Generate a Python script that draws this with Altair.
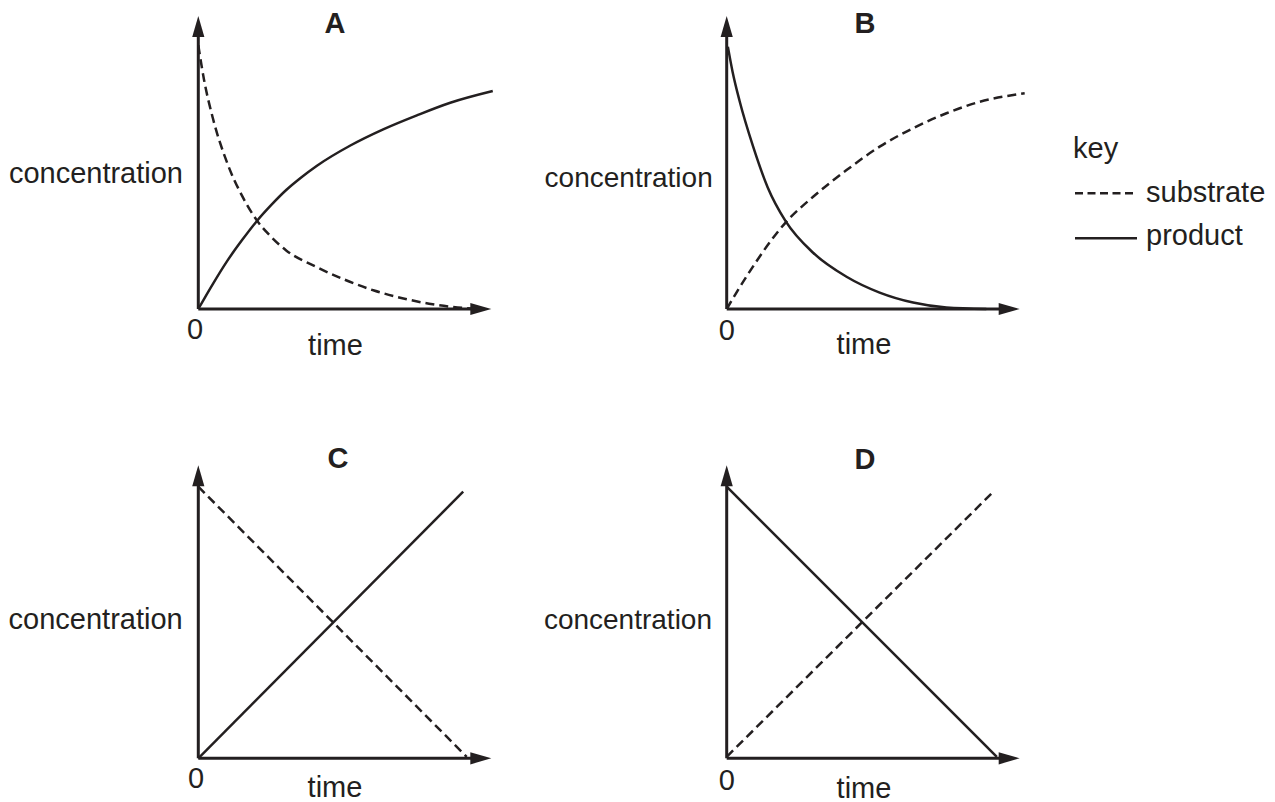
import altair as alt
import pandas as pd

# ---------------- data (time and concentration in arbitrary units 0-100) ----------------
# Graph A
a_sub_t = [0, 2, 5, 10, 15, 19.8, 25, 30, 40, 50, 60, 70, 80, 90, 97]
a_sub_c = [90, 78, 65, 49.5, 38.5, 30.5, 24.5, 20.0, 14.5, 10.0, 6.3, 3.6, 1.6, 0.4, 0]
a_prod_t = [0, 5, 10, 15, 19.8, 25, 30, 35, 40.5, 51.9, 63.3, 74.6, 86.0, 100.5]
a_prod_c = [0, 8.6, 16.6, 23.6, 29.8, 35.6, 40.6, 44.8, 48.9, 55.8, 61.4, 66.1, 70.4, 74.4]
# Graph B
b_sub_t = [0, 6.7, 20.1, 29.5, 40.9, 52.2, 63.6, 75.0, 86.3, 101.7]
b_sub_c = [0, 11.0, 29.5, 38.3, 47.4, 55.4, 61.7, 66.8, 70.7, 73.6]
b_prod_t = [0.4, 2, 4.4, 9.0, 14, 20.1, 29.5, 40.9, 52.2, 63.6, 75.0, 88.6]
b_prod_c = [89.5, 81.0, 71.0, 55.5, 41.5, 30.0, 19.2, 11.0, 5.6, 2.2, 0.5, 0]
# Graph C
c_sub_t = [0, 91.6]
c_sub_c = [92.7, 0.5]
c_prod_t = [0, 90.4]
c_prod_c = [0, 91.0]
# Graph D
d_sub_t = [0, 91.0]
d_sub_c = [0.5, 91.0]
d_prod_t = [0, 92.2]
d_prod_c = [92.7, 0.5]

panel_titles = ["A", "B", "C", "D"]
axis_end = 100          # arrow tips of both axes
key_title = "key"
key_labels = ["substrate", "product"]

# ---------------- styling ----------------
INK = "#231f20"
FONT = "Liberation Sans, Arial, Helvetica, sans-serif"
K = 2.93                # pixels per data unit
HEAD_L = 21             # arrow head length (px)
DASH = [9, 5]
FS = 29


def text_layer(label, px, py, align="center", size=FS, weight="normal"):
    return alt.Chart(pd.DataFrame({"label": [label]})).mark_text(
        font=FONT, fontSize=size, fontWeight=weight, align=align,
        baseline="alphabetic", color=INK
    ).encode(x=alt.value(px), y=alt.value(py), text="label:N")


def panel(W, H, ox, oy, sub_t, sub_c, prod_t, prod_c, interp, texts, extra=()):
    xs = alt.Scale(domain=[-ox / K, (W - ox) / K], nice=False, zero=False)
    ys = alt.Scale(domain=[-(H - oy) / K, oy / K], nice=False, zero=False)
    base_end = axis_end - (HEAD_L * 0.6) / K
    axes_df = pd.DataFrame({"x": [0, 0], "y": [0, 0],
                            "x2": [base_end, 0], "y2": [0, base_end]})
    axes = alt.Chart(axes_df).mark_rule(color=INK, strokeWidth=3).encode(
        x=alt.X("x:Q", scale=xs, axis=None), y=alt.Y("y:Q", scale=ys, axis=None),
        x2="x2:Q", y2="y2:Q")
    right_head = alt.Chart(pd.DataFrame({"x": [axis_end], "y": [0]})).mark_point(
        shape="M -1 -0.58 L 1 0 L -1 0.58 Z", size=HEAD_L ** 2, filled=True,
        opacity=1, color=INK, strokeWidth=0, xOffset=-HEAD_L / 2
    ).encode(x=alt.X("x:Q", scale=xs, axis=None), y=alt.Y("y:Q", scale=ys, axis=None))
    up_head = alt.Chart(pd.DataFrame({"x": [0], "y": [axis_end]})).mark_point(
        shape="M -0.58 1 L 0 -1 L 0.58 1 Z", size=HEAD_L ** 2, filled=True,
        opacity=1, color=INK, strokeWidth=0, yOffset=HEAD_L / 2
    ).encode(x=alt.X("x:Q", scale=xs, axis=None), y=alt.Y("y:Q", scale=ys, axis=None))
    sub = alt.Chart(pd.DataFrame({"t": sub_t, "c": sub_c})).mark_line(
        color=INK, strokeWidth=2.5, strokeDash=DASH, interpolate=interp
    ).encode(x=alt.X("t:Q", scale=xs, axis=None), y=alt.Y("c:Q", scale=ys, axis=None),
             order="t:Q")
    prod = alt.Chart(pd.DataFrame({"t": prod_t, "c": prod_c})).mark_line(
        color=INK, strokeWidth=2.5, interpolate=interp
    ).encode(x=alt.X("t:Q", scale=xs, axis=None), y=alt.Y("c:Q", scale=ys, axis=None),
             order="t:Q")
    layers = [axes, right_head, up_head, sub, prod] + list(texts) + list(extra)
    return alt.layer(*layers).properties(width=W, height=H)


def panel_texts(title, tx, ty, cx, cy, cs, zx, zy, mx, my):
    return [
        text_layer(title, tx, ty, weight="bold"),
        text_layer("concentration", cx, cy, align="right", size=cs),
        text_layer("0", zx, zy),
        text_layer("time", mx, my),
    ]


key_layers = [
    text_layer(key_title, 535, 150.3, align="left"),
    alt.Chart(pd.DataFrame({"s": [key_labels[0]]})).mark_rule(
        color=INK, strokeWidth=2.5, strokeDash=[8, 4.5]
    ).encode(x=alt.value(537), x2=alt.value(599), y=alt.value(185.3)),
    text_layer(key_labels[0], 608, 193.7, align="left"),
    alt.Chart(pd.DataFrame({"s": [key_labels[1]]})).mark_rule(
        color=INK, strokeWidth=2.5
    ).encode(x=alt.value(537), x2=alt.value(599), y=alt.value(230.3)),
    text_layer(key_labels[1], 608, 237, align="left"),
]

pA = panel(530, 392, 190.3, 301, a_sub_t, a_sub_c, a_prod_t, a_prod_c, "monotone",
           panel_texts(panel_titles[0], 327, 25, 175, 175.3, FS, 187, 331, 327.5, 347))
pB = panel(729, 392, 188.7, 301, b_sub_t, b_sub_c, b_prod_t, b_prod_c, "monotone",
           panel_texts(panel_titles[1], 327, 25, 174.7, 179.3, 28, 188.7, 332, 326, 346),
           extra=key_layers)
pC = panel(530, 400, 190.3, 358.3, c_sub_t, c_sub_c, c_prod_t, c_prod_c, "linear",
           panel_texts(panel_titles[2], 330, 68, 174.7, 229, FS, 188, 388.3, 327, 396.7))
pD = panel(729, 400, 188.7, 358.3, d_sub_t, d_sub_c, d_prod_t, d_prod_c, "linear",
           panel_texts(panel_titles[3], 327, 69, 174, 229, 28, 188.7, 390, 326, 398))

chart = alt.concat(pA, pB, pC, pD, columns=2, spacing=0, bounds="flush").properties(
    padding=0, background="white"
).configure_view(stroke=None)

chart.save("out.html", embed_options={"renderer": "svg", "actions": False})
